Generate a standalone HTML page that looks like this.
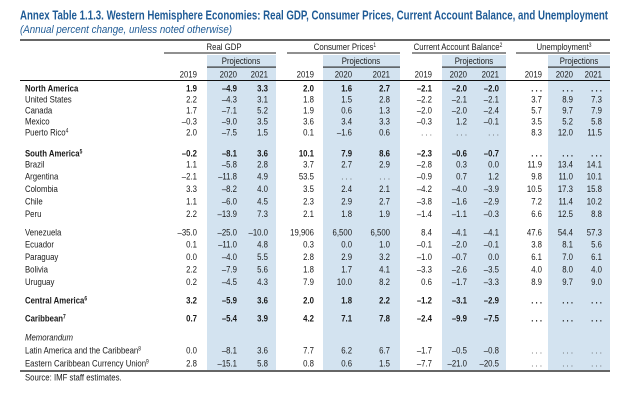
<!DOCTYPE html>
<html><head><meta charset="utf-8"><style>
html,body{margin:0;padding:0;background:#fff;width:620px;height:400px;overflow:hidden}
svg{display:block;font-family:"Liberation Sans",Arial,sans-serif}
.t text{font-size:9.5px;fill:#1a1a1a}
.n{text-anchor:end}
.b{font-weight:bold}
.d{fill:#555}
</style></head><body>
<svg width="620" height="400" viewBox="0 0 620 400">
<rect x="207" y="55" width="69" height="316" fill="#d3e3f0"/>
<rect x="323" y="55" width="77" height="316" fill="#d3e3f0"/>
<rect x="442" y="55" width="64" height="316" fill="#d3e3f0"/>
<rect x="548" y="55" width="62" height="316" fill="#d3e3f0"/>
<text x="20" y="19.5" font-size="12.5" font-weight="bold" fill="#1f5b96" textLength="588" lengthAdjust="spacingAndGlyphs">Annex Table 1.1.3. Western Hemisphere Economies: Real GDP, Consumer Prices, Current Account Balance, and Unemployment</text>
<text x="20" y="33" font-size="11" font-style="italic" fill="#1f5b96" textLength="212" lengthAdjust="spacingAndGlyphs">(Annual percent change, unless noted otherwise)</text>
<rect x="20" y="39" width="590" height="2" fill="#666"/>
<rect x="164" y="52.5" width="112" height="1" fill="#222"/>
<rect x="287" y="52.5" width="113" height="1" fill="#222"/>
<rect x="412" y="52.5" width="94" height="1" fill="#222"/>
<rect x="516" y="52.5" width="94" height="1" fill="#222"/>
<rect x="207" y="66.5" width="69" height="1.2" fill="#333"/>
<rect x="323" y="66.5" width="77" height="1.2" fill="#333"/>
<rect x="442" y="66.5" width="64" height="1.2" fill="#333"/>
<rect x="548" y="66.5" width="62" height="1.2" fill="#333"/>
<rect x="20" y="80" width="590" height="1" fill="#111"/>
<rect x="20" y="370" width="590" height="2" fill="#666"/>
<g class="t">
<g transform="scale(0.82,1)" style="text-anchor:middle">
<text x="273.2" y="50">Real GDP</text>
<text x="420.7" y="50">Consumer Prices<tspan font-size="6" dy="-3">1</tspan></text>
<text x="558.5" y="50">Current Account Balance<tspan font-size="6" dy="-3">2</tspan></text>
<text x="687.8" y="50">Unemployment<tspan font-size="6" dy="-3">3</tspan></text>
<text x="293.9" y="64">Projections</text>
<text x="440.2" y="64">Projections</text>
<text x="578" y="64">Projections</text>
<text x="706.1" y="64">Projections</text>
</g>
<g transform="scale(0.82,1)">
<text class="n" y="77.5"><tspan x="240.2">2019</tspan><tspan x="289">2020</tspan><tspan x="326.8">2021</tspan><tspan x="382.9">2019</tspan><tspan x="429.3">2020</tspan><tspan x="475.6">2021</tspan><tspan x="526.8">2019</tspan><tspan x="569.5">2020</tspan><tspan x="608.5">2021</tspan><tspan x="661">2019</tspan><tspan x="698.8">2020</tspan><tspan x="734.1">2021</tspan></text>

<text class="b" x="30.5" y="91.5">North America</text>
<text class="n b" y="91.5"><tspan x="240.2">1.9</tspan><tspan x="289">–4.9</tspan><tspan x="326.8">3.3</tspan><tspan x="382.9">2.0</tspan><tspan x="429.3">1.6</tspan><tspan x="475.6">2.7</tspan><tspan x="526.8">–2.1</tspan><tspan x="569.5">–2.0</tspan><tspan x="608.5">–2.0</tspan><tspan x="661">. . .</tspan><tspan x="698.8">. . .</tspan><tspan x="734.1">. . .</tspan></text>

<text x="30.5" y="102.5">United States</text>
<text class="n" y="102.5"><tspan x="240.2">2.2</tspan><tspan x="289">–4.3</tspan><tspan x="326.8">3.1</tspan><tspan x="382.9">1.8</tspan><tspan x="429.3">1.5</tspan><tspan x="475.6">2.8</tspan><tspan x="526.8">–2.2</tspan><tspan x="569.5">–2.1</tspan><tspan x="608.5">–2.1</tspan><tspan x="661">3.7</tspan><tspan x="698.8">8.9</tspan><tspan x="734.1">7.3</tspan></text>

<text x="30.5" y="113.5">Canada</text>
<text class="n" y="113.5"><tspan x="240.2">1.7</tspan><tspan x="289">–7.1</tspan><tspan x="326.8">5.2</tspan><tspan x="382.9">1.9</tspan><tspan x="429.3">0.6</tspan><tspan x="475.6">1.3</tspan><tspan x="526.8">–2.0</tspan><tspan x="569.5">–2.0</tspan><tspan x="608.5">–2.4</tspan><tspan x="661">5.7</tspan><tspan x="698.8">9.7</tspan><tspan x="734.1">7.9</tspan></text>

<text x="30.5" y="124.5">Mexico</text>
<text class="n" y="124.5"><tspan x="240.2">–0.3</tspan><tspan x="289">–9.0</tspan><tspan x="326.8">3.5</tspan><tspan x="382.9">3.6</tspan><tspan x="429.3">3.4</tspan><tspan x="475.6">3.3</tspan><tspan x="526.8">–0.3</tspan><tspan x="569.5">1.2</tspan><tspan x="608.5">–0.1</tspan><tspan x="661">3.5</tspan><tspan x="698.8">5.2</tspan><tspan x="734.1">5.8</tspan></text>

<text x="30.5" y="135.5">Puerto Rico<tspan font-size="6" dy="-3">4</tspan></text>
<text class="n" y="135.5"><tspan x="240.2">2.0</tspan><tspan x="289">–7.5</tspan><tspan x="326.8">1.5</tspan><tspan x="382.9">0.1</tspan><tspan x="429.3">–1.6</tspan><tspan x="475.6">0.6</tspan><tspan x="526.8" class="d">. . .</tspan><tspan x="569.5" class="d">. . .</tspan><tspan x="608.5" class="d">. . .</tspan><tspan x="661">8.3</tspan><tspan x="698.8">12.0</tspan><tspan x="734.1">11.5</tspan></text>

<text class="b" x="30.5" y="156.5">South America<tspan font-size="6" dy="-3">5</tspan></text>
<text class="n b" y="156.5"><tspan x="240.2">–0.2</tspan><tspan x="289">–8.1</tspan><tspan x="326.8">3.6</tspan><tspan x="382.9">10.1</tspan><tspan x="429.3">7.9</tspan><tspan x="475.6">8.6</tspan><tspan x="526.8">–2.3</tspan><tspan x="569.5">–0.6</tspan><tspan x="608.5">–0.7</tspan><tspan x="661">. . .</tspan><tspan x="698.8">. . .</tspan><tspan x="734.1">. . .</tspan></text>

<text x="30.5" y="167.5">Brazil</text>
<text class="n" y="167.5"><tspan x="240.2">1.1</tspan><tspan x="289">–5.8</tspan><tspan x="326.8">2.8</tspan><tspan x="382.9">3.7</tspan><tspan x="429.3">2.7</tspan><tspan x="475.6">2.9</tspan><tspan x="526.8">–2.8</tspan><tspan x="569.5">0.3</tspan><tspan x="608.5">0.0</tspan><tspan x="661">11.9</tspan><tspan x="698.8">13.4</tspan><tspan x="734.1">14.1</tspan></text>

<text x="30.5" y="179.5">Argentina</text>
<text class="n" y="179.5"><tspan x="240.2">–2.1</tspan><tspan x="289">–11.8</tspan><tspan x="326.8">4.9</tspan><tspan x="382.9">53.5</tspan><tspan x="429.3" class="d">. . .</tspan><tspan x="475.6" class="d">. . .</tspan><tspan x="526.8">–0.9</tspan><tspan x="569.5">0.7</tspan><tspan x="608.5">1.2</tspan><tspan x="661">9.8</tspan><tspan x="698.8">11.0</tspan><tspan x="734.1">10.1</tspan></text>

<text x="30.5" y="192">Colombia</text>
<text class="n" y="192"><tspan x="240.2">3.3</tspan><tspan x="289">–8.2</tspan><tspan x="326.8">4.0</tspan><tspan x="382.9">3.5</tspan><tspan x="429.3">2.4</tspan><tspan x="475.6">2.1</tspan><tspan x="526.8">–4.2</tspan><tspan x="569.5">–4.0</tspan><tspan x="608.5">–3.9</tspan><tspan x="661">10.5</tspan><tspan x="698.8">17.3</tspan><tspan x="734.1">15.8</tspan></text>

<text x="30.5" y="204.5">Chile</text>
<text class="n" y="204.5"><tspan x="240.2">1.1</tspan><tspan x="289">–6.0</tspan><tspan x="326.8">4.5</tspan><tspan x="382.9">2.3</tspan><tspan x="429.3">2.9</tspan><tspan x="475.6">2.7</tspan><tspan x="526.8">–3.8</tspan><tspan x="569.5">–1.6</tspan><tspan x="608.5">–2.9</tspan><tspan x="661">7.2</tspan><tspan x="698.8">11.4</tspan><tspan x="734.1">10.2</tspan></text>

<text x="30.5" y="217">Peru</text>
<text class="n" y="217"><tspan x="240.2">2.2</tspan><tspan x="289">–13.9</tspan><tspan x="326.8">7.3</tspan><tspan x="382.9">2.1</tspan><tspan x="429.3">1.8</tspan><tspan x="475.6">1.9</tspan><tspan x="526.8">–1.4</tspan><tspan x="569.5">–1.1</tspan><tspan x="608.5">–0.3</tspan><tspan x="661">6.6</tspan><tspan x="698.8">12.5</tspan><tspan x="734.1">8.8</tspan></text>

<text x="30.5" y="235.5">Venezuela</text>
<text class="n" y="235.5"><tspan x="240.2">–35.0</tspan><tspan x="289">–25.0</tspan><tspan x="326.8">–10.0</tspan><tspan x="382.9">19,906</tspan><tspan x="429.3">6,500</tspan><tspan x="475.6">6,500</tspan><tspan x="526.8">8.4</tspan><tspan x="569.5">–4.1</tspan><tspan x="608.5">–4.1</tspan><tspan x="661">47.6</tspan><tspan x="698.8">54.4</tspan><tspan x="734.1">57.3</tspan></text>

<text x="30.5" y="247.5">Ecuador</text>
<text class="n" y="247.5"><tspan x="240.2">0.1</tspan><tspan x="289">–11.0</tspan><tspan x="326.8">4.8</tspan><tspan x="382.9">0.3</tspan><tspan x="429.3">0.0</tspan><tspan x="475.6">1.0</tspan><tspan x="526.8">–0.1</tspan><tspan x="569.5">–2.0</tspan><tspan x="608.5">–0.1</tspan><tspan x="661">3.8</tspan><tspan x="698.8">8.1</tspan><tspan x="734.1">5.6</tspan></text>

<text x="30.5" y="260">Paraguay</text>
<text class="n" y="260"><tspan x="240.2">0.0</tspan><tspan x="289">–4.0</tspan><tspan x="326.8">5.5</tspan><tspan x="382.9">2.8</tspan><tspan x="429.3">2.9</tspan><tspan x="475.6">3.2</tspan><tspan x="526.8">–1.0</tspan><tspan x="569.5">–0.7</tspan><tspan x="608.5">0.0</tspan><tspan x="661">6.1</tspan><tspan x="698.8">7.0</tspan><tspan x="734.1">6.1</tspan></text>

<text x="30.5" y="272.5">Bolivia</text>
<text class="n" y="272.5"><tspan x="240.2">2.2</tspan><tspan x="289">–7.9</tspan><tspan x="326.8">5.6</tspan><tspan x="382.9">1.8</tspan><tspan x="429.3">1.7</tspan><tspan x="475.6">4.1</tspan><tspan x="526.8">–3.3</tspan><tspan x="569.5">–2.6</tspan><tspan x="608.5">–3.5</tspan><tspan x="661">4.0</tspan><tspan x="698.8">8.0</tspan><tspan x="734.1">4.0</tspan></text>

<text x="30.5" y="285">Uruguay</text>
<text class="n" y="285"><tspan x="240.2">0.2</tspan><tspan x="289">–4.5</tspan><tspan x="326.8">4.3</tspan><tspan x="382.9">7.9</tspan><tspan x="429.3">10.0</tspan><tspan x="475.6">8.2</tspan><tspan x="526.8">0.6</tspan><tspan x="569.5">–1.7</tspan><tspan x="608.5">–3.3</tspan><tspan x="661">8.9</tspan><tspan x="698.8">9.7</tspan><tspan x="734.1">9.0</tspan></text>

<text class="b" x="30.5" y="303.5">Central America<tspan font-size="6" dy="-3">6</tspan></text>
<text class="n b" y="303.5"><tspan x="240.2">3.2</tspan><tspan x="289">–5.9</tspan><tspan x="326.8">3.6</tspan><tspan x="382.9">2.0</tspan><tspan x="429.3">1.8</tspan><tspan x="475.6">2.2</tspan><tspan x="526.8">–1.2</tspan><tspan x="569.5">–3.1</tspan><tspan x="608.5">–2.9</tspan><tspan x="661">. . .</tspan><tspan x="698.8">. . .</tspan><tspan x="734.1">. . .</tspan></text>

<text class="b" x="30.5" y="321.5">Caribbean<tspan font-size="6" dy="-3">7</tspan></text>
<text class="n b" y="321.5"><tspan x="240.2">0.7</tspan><tspan x="289">–5.4</tspan><tspan x="326.8">3.9</tspan><tspan x="382.9">4.2</tspan><tspan x="429.3">7.1</tspan><tspan x="475.6">7.8</tspan><tspan x="526.8">–2.4</tspan><tspan x="569.5">–9.9</tspan><tspan x="608.5">–7.5</tspan><tspan x="661">. . .</tspan><tspan x="698.8">. . .</tspan><tspan x="734.1">. . .</tspan></text>

<text x="30.5" y="340.5" font-style="italic">Memorandum</text>

<text x="30.5" y="353.5">Latin America and the Caribbean<tspan font-size="6" dy="-3">8</tspan></text>
<text class="n" y="353.5"><tspan x="240.2">0.0</tspan><tspan x="289">–8.1</tspan><tspan x="326.8">3.6</tspan><tspan x="382.9">7.7</tspan><tspan x="429.3">6.2</tspan><tspan x="475.6">6.7</tspan><tspan x="526.8">–1.7</tspan><tspan x="569.5">–0.5</tspan><tspan x="608.5">–0.8</tspan><tspan x="661" class="d">. . .</tspan><tspan x="698.8" class="d">. . .</tspan><tspan x="734.1" class="d">. . .</tspan></text>

<text x="30.5" y="366.5">Eastern Caribbean Currency Union<tspan font-size="6" dy="-3">9</tspan></text>
<text class="n" y="366.5"><tspan x="240.2">2.8</tspan><tspan x="289">–15.1</tspan><tspan x="326.8">5.8</tspan><tspan x="382.9">0.8</tspan><tspan x="429.3">0.6</tspan><tspan x="475.6">1.5</tspan><tspan x="526.8">–7.7</tspan><tspan x="569.5">–21.0</tspan><tspan x="608.5">–20.5</tspan><tspan x="661" class="d">. . .</tspan><tspan x="698.8" class="d">. . .</tspan><tspan x="734.1" class="d">. . .</tspan></text>

<text x="30.5" y="380.5">Source: IMF staff estimates.</text>
</g>
</g>
</svg>
</body></html>
